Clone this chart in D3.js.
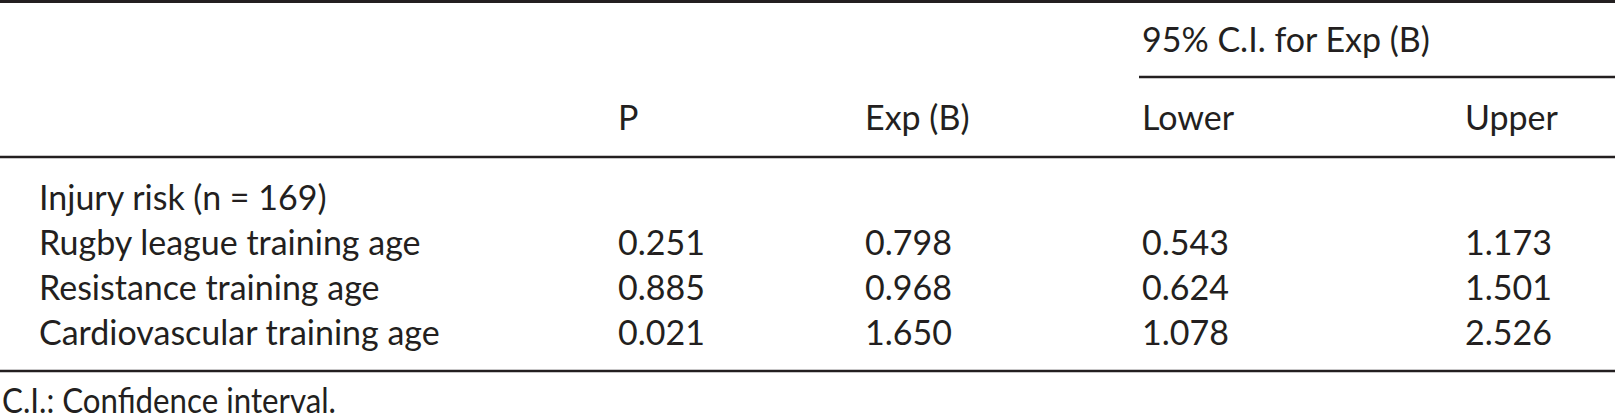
<!DOCTYPE html>
<html>
<head>
<meta charset="utf-8">
<script src="https://cdn.jsdelivr.net/npm/d3@7"></script>
<style>
  html, body { margin: 0; padding: 0; background: #fff; }
  svg text { font-family: Lato, "DejaVu Sans", sans-serif; fill: #231f20; }
</style>
</head>
<body>
<div id="tablediv"></div>
<script>
const rowLabels = ['Rugby league training age', 'Resistance training age', 'Cardiovascular training age']
const groupLabel = 'Injury risk (n = 169)'
const columns = ['P', 'Exp (B)', 'Lower', 'Upper']
const pValues = ['0.251', '0.885', '0.021']
const expB = ['0.798', '0.968', '1.650']
const lowerCI = ['0.543', '0.624', '1.078']
const upperCI = ['1.173', '1.501', '2.526']
const spanHeader = '95% C.I. for Exp (B)'
const footnote = 'C.I.: Confidence interval.'

const width = 1615
const height = 420
const fontSize = 34
const ink = '#231f20'

const svg = d3.select('#tablediv').append('svg')
  .attr('width', width)
  .attr('height', height)

// squeeze a label a little when Lato runs wider than the original face
function fitWidth(sel, maxw){
  sel.each(function(){
    const w = this.getComputedTextLength()
    if(w > maxw){
      d3.select(this).attr('textLength', maxw).attr('lengthAdjust', 'spacingAndGlyphs')
    }
  })
}

// column positions (left edge of text)
const xcol = d3.scaleOrdinal()
  .domain(columns)
  .range([618, 865, 1142, 1465])

// body rows: group label is row 0, then the three predictors
const yrow = d3.scaleLinear()
  .domain([0, 3])
  .range([210, 345])

// rules
const rules = [
  {x1: 0, x2: width, y: 1.5, w: 3},
  {x1: xcol('Lower') - 3, x2: width, y: 77, w: 2.5},
  {x1: 0, x2: width, y: 157, w: 2.5},
  {x1: 0, x2: width, y: 371, w: 2.5}
]
svg.selectAll('line.rule')
  .data(rules)
  .join('line')
  .attr('class', 'rule')
  .attr('x1', d => d.x1)
  .attr('x2', d => d.x2)
  .attr('y1', d => d.y)
  .attr('y2', d => d.y)
  .attr('stroke', ink)
  .attr('stroke-width', d => d.w)

// spanning header
svg.append('text')
  .attr('x', xcol('Lower'))
  .attr('y', 52)
  .attr('font-size', fontSize)
  .text(spanHeader)

// column headers
svg.selectAll('text.colhead')
  .data(columns)
  .join('text')
  .attr('class', 'colhead')
  .attr('x', d => xcol(d))
  .attr('y', 130)
  .attr('font-size', fontSize)
  .text(d => d)

// group label
svg.append('text')
  .attr('x', 39)
  .attr('y', yrow(0))
  .attr('font-size', fontSize)
  .text(groupLabel)

// row labels
const labs = svg.selectAll('text.rowlab')
  .data(rowLabels)
  .join('text')
  .attr('class', 'rowlab')
  .attr('x', 39)
  .attr('y', (d, i) => yrow(i + 1))
  .attr('font-size', fontSize)
  .text(d => d)
fitWidth(labs.filter((d, i) => i === 2), 412)

// cells
const series = [pValues, expB, lowerCI, upperCI]
series.forEach((vals, c) => {
  svg.selectAll('text.cell' + c)
    .data(vals)
    .join('text')
    .attr('class', 'cell' + c)
    .attr('x', xcol(columns[c]))
    .attr('y', (d, i) => yrow(i + 1))
    .attr('font-size', fontSize)
    .text(d => d)
})

// footnote
const fn = svg.append('text')
  .attr('x', 2)
  .attr('y', 413)
  .attr('font-size', fontSize)
  .text(footnote)
fitWidth(fn, 334)
</script>
</body>
</html>
